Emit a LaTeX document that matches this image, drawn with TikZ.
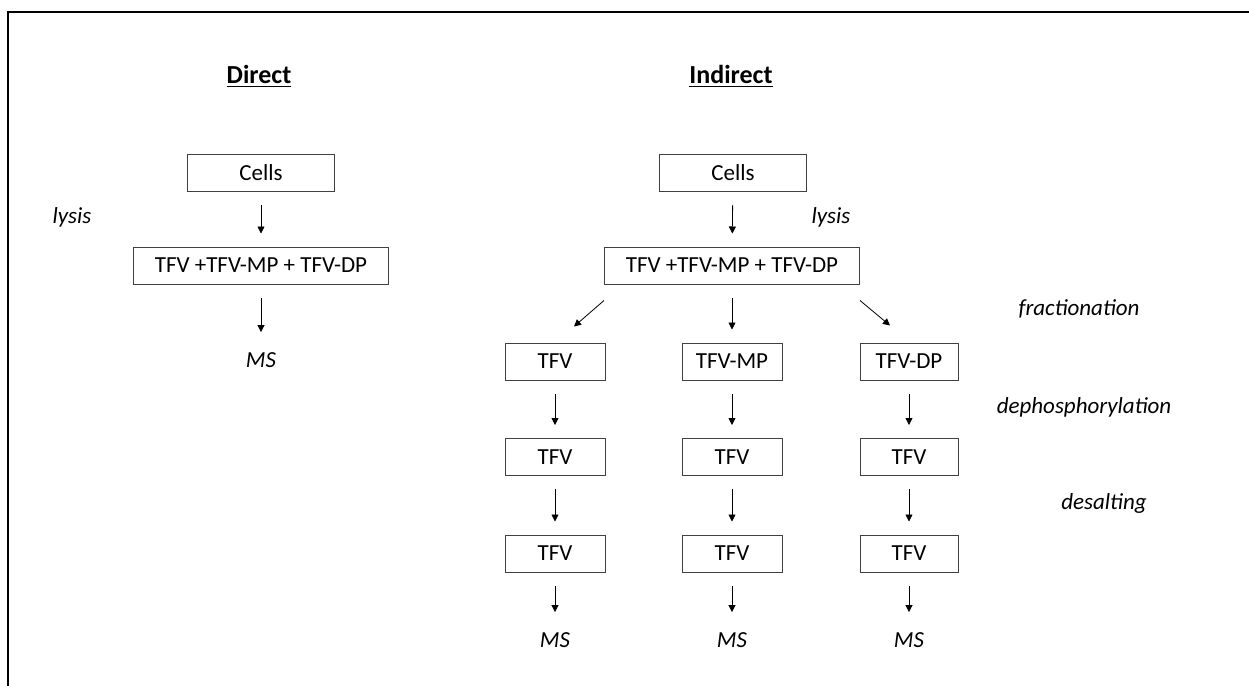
\documentclass[tikz,border=0pt]{standalone}
\usepackage{fontspec}
\setmainfont{Carlito}
\usetikzlibrary{arrows.meta}

\begin{document}
\begin{tikzpicture}[x=0.5pt,y=-0.5pt,font=\fontsize{11.5}{14}\selectfont]

      \useasboundingbox (0,0) rectangle (1249,686);
      \draw[line width=1pt] (8,686) -- (8,12) -- (1249,12);

      \begin{scope}[every node/.style={font=\fontsize{13}{16}\selectfont\bfseries}]
        \node (hd) at (259,76) {\underline{Direct}};
        \node (hi) at (731,76) {\underline{Indirect}};
      \end{scope}

      \begin{scope}[every node/.style={draw=black!75,line width=0.5pt,minimum height=18.5pt,inner sep=0pt}]
        \node[minimum width=73.5pt] (dc) at (261,173) {Cells};
        \node[minimum width=127.5pt] (dm) at (261,265.5) {TFV +TFV-MP + TFV-DP};
        \node[minimum width=73.5pt] (ic) at (733,173) {Cells};
        \node[minimum width=127.5pt] (im) at (732,265.5) {TFV +TFV-MP + TFV-DP};
        \node[minimum width=50pt] (a1) at (555,361.5) {TFV};
        \node[minimum width=50pt] (b1) at (732,361.5) {TFV-MP};
        \node[minimum width=49pt] (c1) at (909,361.5) {TFV-DP};
        \node[minimum width=50pt] (a2) at (555,457) {TFV};
        \node[minimum width=50pt] (b2) at (732,457) {TFV};
        \node[minimum width=49pt] (c2) at (909,457) {TFV};
        \node[minimum width=50pt] (a3) at (555,553.5) {TFV};
        \node[minimum width=50pt] (b3) at (732,553.5) {TFV};
        \node[minimum width=49pt] (c3) at (909,553.5) {TFV};
      \end{scope}

      \begin{scope}[every node/.style={font=\fontsize{11.5}{14}\selectfont\itshape,inner sep=3.5pt}]
        \node (dms) at (261,360) {MS};
        \node (ams) at (555,640) {MS};
        \node (bms) at (732,640) {MS};
        \node (cms) at (909,640) {MS};
        \node (ly1) at (72,217) {lysis};
        \node (ly2) at (831,217) {lysis};
        \node (fr) at (1079,309) {fractionation};
        \node (dp) at (1084,407) {dephosphorylation};
        \node (ds) at (1104,503) {desalting};
      \end{scope}

      \begin{scope}[every edge/.style={draw,-{Triangle[length=3.5pt,width=3.5pt]},shorten <=6.5pt,shorten >=6.5pt}]
        \path (dc) edge (dm);
        \path (dm) edge (dms);
        \path (ic) edge (im);
        \path (im) edge (b1);
        \path ([yshift=-8pt]im.south west) edge[shorten <=0pt,shorten >=0pt] ([xshift=9.5pt,yshift=8pt]a1.north);
        \path ([yshift=-8pt]im.south east) edge[shorten <=0pt,shorten >=0pt] ([xshift=-9.5pt,yshift=8.5pt]c1.north);
        \path (a1) edge (a2);
        \path (b1) edge (b2);
        \path (c1) edge (c2);
        \path (a2) edge (a3);
        \path (b2) edge (b3);
        \path (c2) edge (c3);
        \path (a3) edge (ams);
        \path (b3) edge (bms);
        \path (c3) edge (cms);
      \end{scope}

    \end{tikzpicture}
\end{document}
